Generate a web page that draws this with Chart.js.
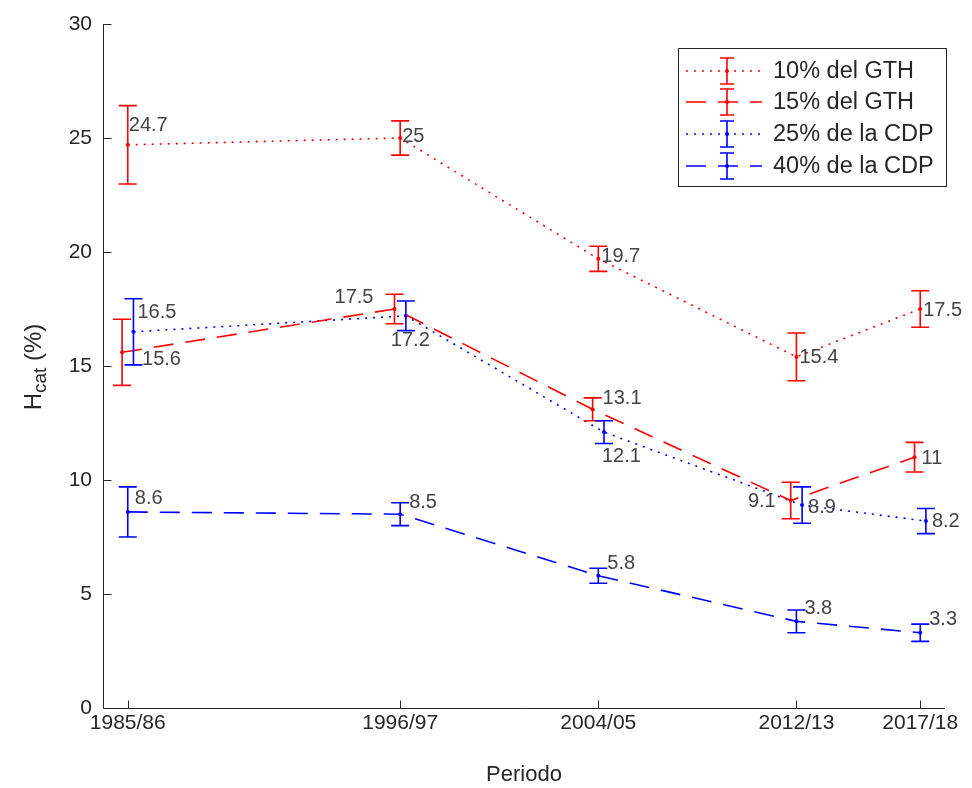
<!DOCTYPE html>
<html>
<head>
<meta charset="utf-8">
<script src="https://cdn.jsdelivr.net/npm/chart.js@4.4.1/dist/chart.umd.min.js"></script>
<style>
  html, body { margin: 0; padding: 0; background: #fff; }
  #wrap { width: 972px; height: 788px; }
</style>
</head>
<body>
<div id="wrap"><canvas id="chart" width="972" height="788"></canvas></div>
<script>
// Periods (x is the start year, drawn on a linear axis)
const years = [1985, 1996, 2004, 2012, 2017];
const periodLabels = ['1985/86', '1996/97', '2004/05', '2012/13', '2017/18'];

const seriesNames = ['10% del GTH', '15% del GTH', '25% de la CDP', '40% de la CDP'];

const gth10 = [24.7, 25, 19.7, 15.4, 17.5];
const gth10Err = [1.72, 0.75, 0.55, 1.05, 0.8];

const gth15 = [15.6, 17.5, 13.1, 9.1, 11];
const gth15Err = [1.45, 0.65, 0.5, 0.8, 0.65];

const cdp25 = [16.5, 17.2, 12.1, 8.9, 8.2];
const cdp25Err = [1.45, 0.65, 0.5, 0.8, 0.55];

const cdp40 = [8.6, 8.5, 5.8, 3.8, 3.3];
const cdp40Err = [1.1, 0.5, 0.33, 0.5, 0.38];

const yTicks = [0, 5, 10, 15, 20, 25, 30];

const FONT = '"Liberation Sans", Arial, Helvetica, sans-serif';
const AXIS_COLOR = '#262626';
const DOTTED = [2, 6];
const DASHED = [20, 12];

function toPoints(vals, shift) {
    return vals.map((v, i) => ({ x: years[i] + shift, y: v }));
}

function makeSet(name, vals, errs, color, dash, shift, labelPos) {
    return {
        label: name,
        data: toPoints(vals, shift),
        errors: errs,
        labelPos: labelPos,
        borderColor: color,
        backgroundColor: color,
        borderWidth: 1.6,
        borderDash: dash,
        pointRadius: 2,
        pointHoverRadius: 2,
        pointBorderWidth: 0,
        fill: false,
        tension: 0
    };
}

// where each value text sits relative to its point: [dx, dy, align]
const datasets = [
    makeSet(seriesNames[0], gth10, gth10Err, '#ff0000', DOTTED, 0,
        [[1, -19, 'left'], [2, -2, 'left'], [3, -2, 'left'], [3, 1, 'left'], [3, 1, 'left']]),
    makeSet(seriesNames[1], gth15, gth15Err, '#ff0000', DASHED, -0.23,
        [[20, 7, 'left'], [-21, -12, 'right'], [10, -11, 'left'], [-15, 1, 'right'], [7, 1, 'left']]),
    makeSet(seriesNames[2], cdp25, cdp25Err, '#0000ff', DOTTED, 0.23,
        [[4, -19, 'left'], [-15, 25, 'left'], [-2, 24, 'left'], [6, 2, 'left'], [6, 0, 'left']]),
    makeSet(seriesNames[3], cdp40, cdp40Err, '#0000ff', DASHED, 0,
        [[7, -13, 'left'], [9, -12, 'left'], [9, -12, 'left'], [8, -13, 'left'], [9, -13, 'left']])
];

// error bars, value labels, axes, axis titles and legend
const extras = {
    id: 'extras',
    afterDatasetsDraw(chart) {
        const ctx = chart.ctx;
        const y = chart.scales.y;
        chart.data.datasets.forEach((ds, di) => {
            const meta = chart.getDatasetMeta(di);
            ctx.save();
            ctx.strokeStyle = ds.borderColor;
            ctx.lineWidth = 1.6;
            ctx.setLineDash([]);
            meta.data.forEach((pt, i) => {
                const v = ds.data[i].y;
                const e = ds.errors[i];
                const top = y.getPixelForValue(v + e);
                const bot = y.getPixelForValue(v - e);
                const cx = pt.x;
                ctx.beginPath();
                ctx.moveTo(cx, top); ctx.lineTo(cx, bot);
                ctx.moveTo(cx - 9, top); ctx.lineTo(cx + 9, top);
                ctx.moveTo(cx - 9, bot); ctx.lineTo(cx + 9, bot);
                ctx.stroke();
            });
            ctx.restore();
        });

        // value labels
        ctx.save();
        ctx.font = '20px ' + FONT;
        ctx.fillStyle = '#444';
        ctx.textBaseline = 'middle';
        chart.data.datasets.forEach((ds, di) => {
            const meta = chart.getDatasetMeta(di);
            meta.data.forEach((pt, i) => {
                const p = ds.labelPos[i];
                ctx.textAlign = p[2];
                ctx.fillText(String(ds.data[i].y), pt.x + p[0], pt.y + p[1]);
            });
        });
        ctx.restore();
    },
    afterDraw(chart) {
        const ctx = chart.ctx;
        const a = chart.chartArea;
        const xs = chart.scales.x;
        const ys = chart.scales.y;

        // left and bottom axis lines with inward ticks
        ctx.save();
        ctx.strokeStyle = AXIS_COLOR;
        ctx.lineWidth = 1;
        ctx.setLineDash([]);
        const L = Math.round(a.left) + 0.5, B = Math.round(a.bottom) + 0.5;
        ctx.beginPath();
        ctx.moveTo(L, Math.round(a.top)); ctx.lineTo(L, B);
        ctx.lineTo(Math.round(a.right), B);
        yTicks.forEach(t => {
            const py = Math.round(ys.getPixelForValue(t)) + 0.5;
            ctx.moveTo(L, py); ctx.lineTo(L + 8, py);
        });
        years.forEach(t => {
            const px = Math.round(xs.getPixelForValue(t)) + 0.5;
            ctx.moveTo(px, B); ctx.lineTo(px, B - 8);
        });
        ctx.stroke();

        // axis titles
        ctx.fillStyle = AXIS_COLOR;
        ctx.font = '22px ' + FONT;
        ctx.textAlign = 'center';
        ctx.textBaseline = 'middle';
        ctx.fillText('Periodo', (a.left + a.right) / 2, 775);

        ctx.translate(34, 367);
        ctx.rotate(-Math.PI / 2);
        ctx.textAlign = 'left';
        ctx.textBaseline = 'middle';
        const big = '24px ' + FONT, small = '19px ' + FONT;
        ctx.font = big; const wH = ctx.measureText('H').width;
        ctx.font = small; const wSub = ctx.measureText('cat').width;
        ctx.font = big; const wRest = ctx.measureText(' (%)').width;
        let x0 = -(wH + wSub + wRest) / 2;
        ctx.font = big; ctx.fillText('H', x0, 0); x0 += wH;
        ctx.font = small; ctx.fillText('cat', x0, 7); x0 += wSub;
        ctx.font = big; ctx.fillText(' (%)', x0, 0);
        ctx.restore();

        // legend
        ctx.save();
        const lx = 678, ly = 48, lw = 268, lh = 138;
        ctx.fillStyle = '#fff';
        ctx.fillRect(lx, ly, lw, lh);
        ctx.strokeStyle = AXIS_COLOR;
        ctx.lineWidth = 1;
        ctx.strokeRect(lx + 0.5, ly + 0.5, lw, lh);
        const rows = [71, 102, 134, 166];
        chart.data.datasets.forEach((ds, di) => {
            const ry = rows[di];
            ctx.strokeStyle = ds.borderColor;
            ctx.lineWidth = 1.6;
            ctx.setLineDash(ds.borderDash);
            ctx.beginPath();
            ctx.moveTo(686, ry); ctx.lineTo(762, ry);
            ctx.stroke();
            ctx.setLineDash([]);
            ctx.beginPath();
            ctx.moveTo(727, ry - 13); ctx.lineTo(727, ry + 13);
            ctx.moveTo(720, ry - 13); ctx.lineTo(734, ry - 13);
            ctx.moveTo(720, ry + 13); ctx.lineTo(734, ry + 13);
            ctx.stroke();
            ctx.fillStyle = ds.borderColor;
            ctx.beginPath();
            ctx.arc(727, ry, 2, 0, Math.PI * 2);
            ctx.fill();
            ctx.fillStyle = AXIS_COLOR;
            ctx.font = '23.5px ' + FONT;
            ctx.textAlign = 'left';
            ctx.textBaseline = 'middle';
            ctx.fillText(ds.label, 773, ry + 1);
        });
        ctx.restore();
    }
};

new Chart(document.getElementById('chart'), {
    type: 'line',
    data: { datasets: datasets },
    options: {
        responsive: false,
        animation: false,
        events: [],
        layout: { padding: { top: 24, right: 27, left: 0, bottom: 0 } },
        scales: {
            x: {
                type: 'linear',
                min: 1984,
                max: 2018,
                grid: { display: false },
                border: { display: false },
                afterBuildTicks: (scale) => { scale.ticks = years.map(v => ({ value: v })); },
                afterFit: (scale) => { scale.height = 80; },
                ticks: {
                    autoSkip: false,
                    maxRotation: 0,
                    padding: -5,
                    color: AXIS_COLOR,
                    font: { family: FONT, size: 21 },
                    callback: (v) => periodLabels[years.indexOf(v)]
                }
            },
            y: {
                min: 0,
                max: 30,
                grid: { display: false },
                border: { display: false },
                afterBuildTicks: (scale) => { scale.ticks = yTicks.map(v => ({ value: v })); },
                afterFit: (scale) => { scale.width = 103; },
                ticks: {
                    padding: 3,
                    color: AXIS_COLOR,
                    font: { family: FONT, size: 21 }
                }
            }
        },
        plugins: {
            legend: { display: false },
            tooltip: { enabled: false }
        }
    },
    plugins: [extras]
});
</script>
</body>
</html>
